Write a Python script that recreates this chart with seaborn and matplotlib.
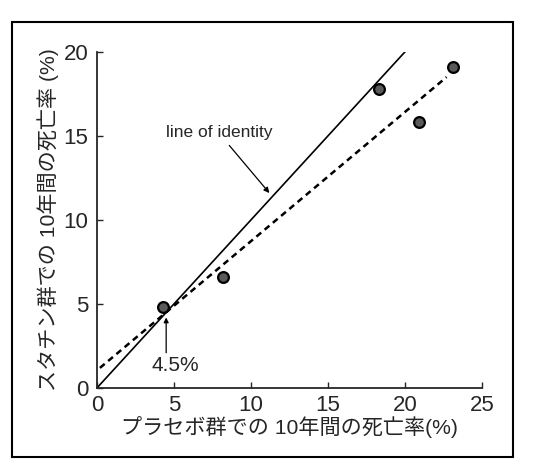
import matplotlib
matplotlib.use("Agg")
import matplotlib.pyplot as plt
from matplotlib.patches import Rectangle
import pandas as pd
import seaborn as sns

# placebo vs statin 10-year mortality (%)
placebo = [4.3, 8.2, 18.3, 20.9, 23.1]
statin = [4.8, 6.6, 17.8, 15.8, 19.1]

# line of identity and fitted (dashed) line end points
identity_x = [0, 20.1]
identity_y = [0, 20.1]
fit_x = [0.2, 22.7]
fit_y = [1.2, 18.5]

x_ticks = [0, 5, 10, 15, 20, 25]
y_ticks = [0, 5, 10, 15, 20]

xlabel = "プラセボ群での 10年間の死亡率(%)"
ylabel = "スタチン群での 10年間の死亡率 (%)"

sns.set_style("ticks")
plt.rcParams['font.family'] = ['Liberation Sans', 'Noto Sans CJK JP', 'DejaVu Sans']

df = pd.DataFrame({"placebo": placebo, "statin": statin})

fig = plt.figure(figsize=(5.35, 4.67), dpi=100)
ax = fig.add_axes([0.181, 0.169, 0.720, 0.720])

sns.lineplot(x=identity_x, y=identity_y, ax=ax, color="black", lw=1.2)
sns.lineplot(x=fit_x, y=fit_y, ax=ax, color="black", lw=1.8,
             linestyle=(0, (2.5, 1.8)))
sns.scatterplot(x="placebo", y="statin", data=df, ax=ax, s=60,
                color="#5a5a5a", edgecolor="black", linewidth=1.6, zorder=3)

ax.set_xlim(0, 25)
ax.set_ylim(0, 20)
ax.set_xticks(x_ticks)
ax.set_yticks(y_ticks)
ax.tick_params(direction="in", length=4, width=1, labelsize=16)
ax.tick_params(axis="y", pad=6)
ax.tick_params(axis="x", pad=5)
sns.despine(ax=ax)
for s in ["left", "bottom"]:
    ax.spines[s].set_linewidth(1.3)

ax.set_xlabel(xlabel, fontsize=15.2, labelpad=0)
ax.set_ylabel(ylabel, fontsize=15.2)
ax.yaxis.set_label_coords(-0.098, 0.5)

# annotations
ax.annotate("line of identity", xy=(11.2, 11.6), xytext=(4.5, 15.2),
            fontsize=12.5, va="center", ha="left",
            arrowprops=dict(arrowstyle="-|>", color="black", lw=0.9,
                            mutation_scale=8, shrinkA=2, shrinkB=0,
                            relpos=(0.55, 0.0)))
ax.annotate("", xy=(4.5, 4.2), xytext=(4.5, 2.1),
            arrowprops=dict(arrowstyle="-|>", color="black", lw=0.9,
                            mutation_scale=7, shrinkA=0, shrinkB=0))
ax.text(5.1, 1.35, "4.5%", fontsize=15, ha="center", va="center")

# outer frame
fig.patches.append(Rectangle((0.022, 0.021), 0.936, 0.931, transform=fig.transFigure,
                             fill=False, edgecolor="black", lw=1.5))

fig.savefig("out.png", dpi=100)
